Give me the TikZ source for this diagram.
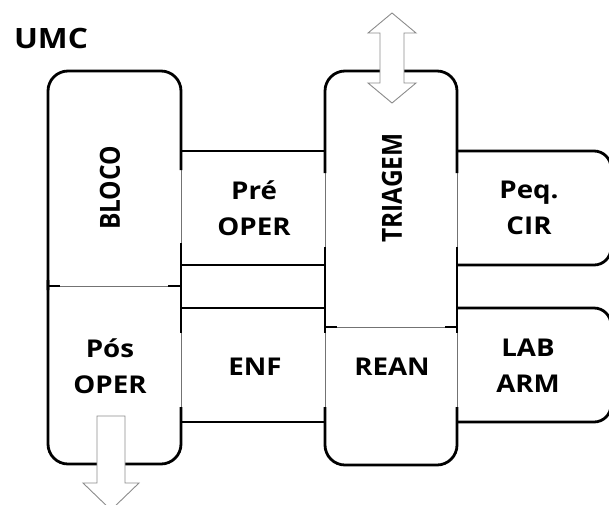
\documentclass[tikz,border=0pt]{standalone}
\usepackage{fontspec}
\setmainfont{Open Sans}[FakeStretch=1.13]
\newfontfamily\plainopen{Open Sans}
\newcommand{\vlabel}[1]{\scalebox{1}[1.13]{\plainopen\bfseries\fontsize{24.5}{30}\selectfont #1}}
\tikzset{
  thk/.style={line width=2.8pt, black},
  thn/.style={line width=0.8pt, black!55},
  blockarrow/.style={draw=black!45, fill=white, line width=0.9pt, line join=miter},
  lbl/.style={font=\bfseries\fontsize{24.5}{36}\selectfont, align=center, inner sep=0pt},
}
\begin{document}
\begin{tikzpicture}[x=1pt,y=-1pt]
\useasboundingbox (0,0) rectangle (609,504);
% ---- column A (BLOCO / Pos OPER)
\draw[thn] (181,170) -- (181,243);
\draw[thn] (181,333) -- (181,407);
\draw[thn] (48,286) -- (181,286);
\draw[thk, rounded corners=20] (48,290) -- (48,71) -- (181,71) -- (181,170);
\draw[thk] (181,243) -- (181,333);
\draw[thk, rounded corners=20] (181,407) -- (181,464) -- (48,464) -- (48,280);
\draw[thk] (48,286) -- (60,286);
\draw[thk] (168,286) -- (181,286);
% ---- column B (TRIAGEM / REAN)
\draw[thn] (325,173) -- (325,247);
\draw[thn] (457,173) -- (457,247);
\draw[thn] (325,333) -- (325,407);
\draw[thn] (457,333) -- (457,407);
\draw[thn] (325,327) -- (457,327);
\draw[thk, rounded corners=20] (325,173) -- (325,71) -- (457,71) -- (457,173);
\draw[thk] (325,247) -- (325,333);
\draw[thk] (457,247) -- (457,333);
\draw[thk, rounded corners=20] (325,407) -- (325,465) -- (457,465) -- (457,407);
\draw[thk] (325,327) -- (337,327);
\draw[thk] (445,327) -- (457,327);
% ---- middle bands
\draw[thk] (181,151) -- (325,151);
\draw[thk] (181,265) -- (325,265);
\draw[thk] (181,308) -- (325,308);
\draw[thk] (181,422) -- (325,422);
% ---- right boxes
\draw[thk, rounded corners=17] (457,151) -- (611,151) -- (611,265) -- (457,265);
\draw[thk, rounded corners=17] (457,308) -- (611,308) -- (611,422) -- (457,422);
% ---- labels
\node[font=\bfseries\fontsize{28}{30}\selectfont, inner sep=0pt] (umc) at (51,38) {UMC};
\node[inner sep=0pt, rotate=90] (bloco) at (110,188) {\vlabel{BLOCO}};
\node[lbl] (pre) at (254,208) {Pré\\OPER};
\node[inner sep=0pt, rotate=90] (triagem) at (392,188) {\vlabel{TRIAGEM}};
\node[lbl] (peq) at (529,208) {Peq.\\CIR};
\node[lbl] (pos) at (110,366) {Pós\\OPER};
\node[lbl] (enf) at (255,367) {ENF};
\node[lbl] (rean) at (392,367) {REAN};
\node[lbl] (lab) at (528,366) {LAB\\ARM};
% ---- block arrows
\draw[blockarrow] (392,13) -- (416,33) -- (404,33) -- (404,83) -- (416,83) -- (392,103)
  -- (368,83) -- (380,83) -- (380,33) -- (368,33) -- cycle;
\draw[blockarrow] (97,416) -- (125,416) -- (125,483) -- (139,483) -- (111,510)
  -- (83,483) -- (97,483) -- cycle;
\end{tikzpicture}
\end{document}
